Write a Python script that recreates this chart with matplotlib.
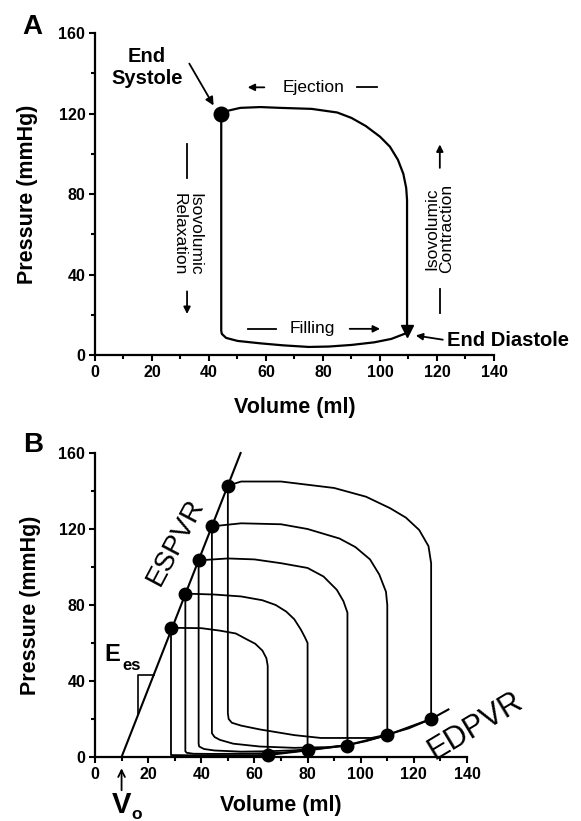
import numpy as np
import matplotlib
matplotlib.use('Agg')
import matplotlib.pyplot as plt

plt.rcParams['font.family'] = ['Liberation Sans', 'DejaVu Sans']

# ---- panel A: single pressure-volume loop ----
a_vol = [44.3, 47, 51, 58, 65, 76, 85, 90, 95, 100, 103.5, 106.3, 108.2, 109.2, 109.5,
         109.5, 104, 98, 90, 82, 75, 66, 58, 50, 46, 44.5, 44.3, 44.3]
a_pres = [120, 121.5, 122.8, 123.2, 122.8, 122.3, 120.5, 117.8, 113.8, 108.5, 103.5, 97, 90, 83, 77,
          11, 8, 6.3, 5, 4.2, 4, 4.8, 5.8, 7, 8.5, 10.5, 12, 120]
a_es = (44.3, 120)
a_ed = (109.5, 12)

# ---- panel B: family of loops ----
loop_tops = [
    ([28.6, 40, 47, 53, 57, 60.3, 63, 64.5, 65],
     [68, 67.8, 66.5, 65, 62, 59.6, 56, 52, 48]),
    ([34, 45, 55, 63, 68, 72, 75, 77.5, 79, 80],
     [86, 85.5, 84.5, 82.5, 80, 76.5, 72.5, 67, 63, 60]),
    ([39, 50, 60, 70, 80, 86, 91, 93.5, 95],
     [103.5, 104.5, 104, 102, 99.5, 95, 88, 82, 76]),
    ([44, 55, 70, 80, 92, 98, 103.5, 107, 109.5, 110],
     [121.4, 123, 122.5, 120, 115, 110.5, 104, 96, 87, 80]),
    ([50, 55, 70, 90, 102, 111, 117, 122, 125.5, 126.5, 126.5],
     [142.8, 145, 145, 141.6, 137, 131, 126, 119.5, 111, 102, 95]),
]
loop_bottoms = [
    ([65, 50, 35, 28.6], [1, 0.9, 0.9, 1]),
    ([80, 70, 60, 45, 37, 34.5, 34], [3.5, 2.2, 1.8, 1.6, 1.7, 2.2, 3]),
    ([95, 85, 75, 65, 55, 45, 41, 39.2, 39], [6, 4.5, 3.5, 3, 2.8, 3.4, 4.2, 5.5, 7]),
    ([110, 102, 95, 88, 75, 62, 52, 47, 45, 44], [11.5, 8.3, 6.3, 5.2, 4.8, 5.5, 7, 9, 10.5, 12.5]),
    ([126.5, 118, 110, 104, 95, 85, 75, 62, 55, 51.5, 50.3, 50],
     [20, 15, 11.8, 10, 10, 10, 11.5, 14.5, 16.5, 18, 20, 23]),
]
es_vol = [28.6, 34, 39, 44, 50]
es_pres = [68, 86, 103.5, 121.4, 142.8]
ed_vol = [65, 80, 95, 110, 126.5]
ed_pres = [1, 3.5, 6, 11.5, 20]
edpvr_vol = [58, 65, 80, 95, 110, 126.5, 133]
edpvr_pres = [0.3, 1, 3.5, 6.2, 11.5, 20, 25]
espvr_vol = [10, 54.8]
espvr_pres = [0, 160]

xticks = [0, 20, 40, 60, 80, 100, 120, 140]
yticks = [0, 40, 80, 120, 160]


def style_axes(ax):
    ax.set_xlim(0, 140)
    ax.set_ylim(0, 160)
    for s in ['top', 'right']:
        ax.spines[s].set_visible(False)
    for s in ['left', 'bottom']:
        ax.spines[s].set_linewidth(1.6)
    ax.set_xticks(xticks)
    ax.set_yticks(yticks)
    ax.set_xticks(np.arange(10, 140, 20), minor=True)
    ax.set_yticks(np.arange(20, 160, 40), minor=True)
    ax.tick_params(which='major', direction='out', length=4.5, width=1.5,
                   labelsize=11.5, pad=2.5)
    ax.tick_params(which='minor', direction='out', length=3, width=1.5)
    for lab in ax.get_xticklabels() + ax.get_yticklabels():
        lab.set_fontweight('bold')
    ax.set_xlabel('Volume (ml)', fontsize=15.5, fontweight='bold')
    ax.set_ylabel('Pressure (mmHg)', fontsize=15.5, fontweight='bold')


fig = plt.figure(figsize=(5.81, 8.21), dpi=100)

# ================= A =================
ax = fig.add_axes([0.1635, 0.5676, 0.6867, 0.3922])
style_axes(ax)
ax.xaxis.set_label_coords(0.5, -0.13)
ax.yaxis.set_label_coords(-0.143, 0.5)
ax.plot(a_vol, a_pres, color='black', lw=1.6)
ax.plot(*a_es, 'o', color='black', ms=10.5, clip_on=False)
ax.plot(*a_ed, 'v', color='black', ms=8, clip_on=False)

ax.text(18.2, 143, 'End\nSystole', fontsize=14.5, fontweight='bold',
        ha='center', va='center')
ax.annotate('', xy=(42.1, 122.8), xytext=(32.6, 146),
            arrowprops=dict(arrowstyle='-|>', color='black', lw=1.3, mutation_scale=12))
ax.annotate('', xy=(52.6, 133), xytext=(60.4, 133),
            arrowprops=dict(arrowstyle='-|>', color='black', lw=1.3, mutation_scale=10))
ax.text(76.7, 133, 'Ejection', fontsize=12.5, ha='center', va='center')
ax.plot([92, 99], [133, 133], color='black', lw=1.3)

ax.text(32.3, 60, 'Isovolumic\nRelaxation', fontsize=12.5, rotation=-90,
        ha='center', va='center', linespacing=1.0)
ax.plot([32.3, 32.3], [88, 105], color='black', lw=1.3)
ax.annotate('', xy=(32.3, 19), xytext=(32.3, 33),
            arrowprops=dict(arrowstyle='-|>', color='black', lw=1.3, mutation_scale=10))

ax.text(120.7, 63, 'Isovolumic\nContraction', fontsize=12.5, rotation=90,
        ha='center', va='center', linespacing=1.0)
ax.annotate('', xy=(121, 106), xytext=(121, 91.6),
            arrowprops=dict(arrowstyle='-|>', color='black', lw=1.3, mutation_scale=10))
ax.plot([121, 121], [21, 33], color='black', lw=1.3)

ax.text(76.3, 13, 'Filling', fontsize=12.5, ha='center', va='center')
ax.plot([53.8, 63.6], [13, 13], color='black', lw=1.3)
ax.annotate('', xy=(101, 13), xytext=(88.4, 13),
            arrowprops=dict(arrowstyle='-|>', color='black', lw=1.3, mutation_scale=10))

ax.text(123.5, 7.4, 'End Diastole', fontsize=14.5, fontweight='bold',
        ha='left', va='center', clip_on=False)
ax.annotate('', xy=(111.6, 9.9), xytext=(123, 7.4), annotation_clip=False,
            arrowprops=dict(arrowstyle='-|>', color='black', lw=1.3, mutation_scale=10))

fig.text(0.055, 0.967, 'A', fontsize=20, fontweight='bold', ha='center', va='center')

# ================= B =================
bx = fig.add_axes([0.1635, 0.0780, 0.6403, 0.3702])
style_axes(bx)
bx.xaxis.set_label_coords(0.5, -0.125)
bx.yaxis.set_label_coords(-0.145, 0.5)

bx.plot(espvr_vol, espvr_pres, color='black', lw=1.5, clip_on=False)
bx.plot(edpvr_vol, edpvr_pres, color='black', lw=1.5, clip_on=False)
for (tv, tp), (bv, bp) in zip(loop_tops, loop_bottoms):
    v = tv + bv + [tv[0]]
    p = tp + bp + [tp[0]]
    bx.plot(v, p, color='black', lw=1.3, clip_on=False)
bx.plot(es_vol, es_pres, 'o', color='black', ms=9, clip_on=False)
bx.plot(ed_vol, ed_pres, 'o', color='black', ms=9, clip_on=False)

# slope triangle
bx.plot([16.3, 16.3, 22.2], [22.5, 43.4, 43.4], color='black', lw=1.2)
bx.text(6.6, 53.7, 'E', fontsize=17, fontweight='bold', ha='center', va='center')
bx.text(13.9, 48, 'es', fontsize=12, fontweight='bold', ha='center', va='center')

bx.text(30.5, 113, 'ESPVR', fontsize=20, rotation=62, ha='center', va='center')
bx.text(143, 16, 'EDPVR', fontsize=22, rotation=31, ha='center', va='center',
        clip_on=False)

bx.annotate('', xy=(10, -4.5), xytext=(10, -19), annotation_clip=False,
            arrowprops=dict(arrowstyle='->', color='black', lw=1.3, mutation_scale=12))
bx.text(9.8, -25.5, 'V', fontsize=21, fontweight='bold', ha='center', va='center',
        clip_on=False)
bx.text(15.8, -30.5, 'o', fontsize=12.5, fontweight='bold', ha='center', va='center',
        clip_on=False)

fig.text(0.057, 0.458, 'B', fontsize=20, fontweight='bold', ha='center', va='center')

fig.savefig('out.png', dpi=100)
